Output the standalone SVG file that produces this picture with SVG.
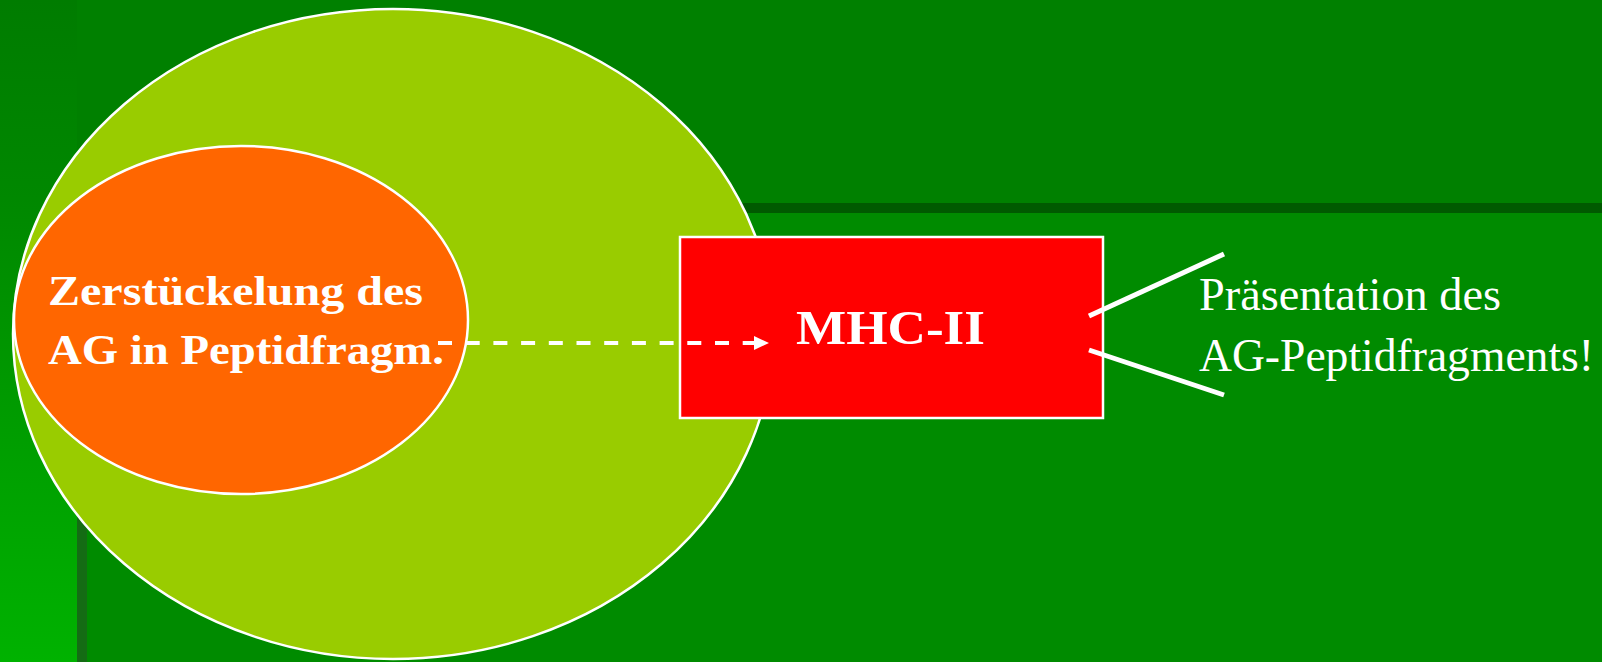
<svg xmlns="http://www.w3.org/2000/svg" width="1602" height="662" viewBox="0 0 1602 662">
<defs>
<linearGradient id="bg" x1="0" y1="0" x2="0" y2="1">
<stop offset="0" stop-color="#007c00"/>
<stop offset="0.3" stop-color="#008800"/>
<stop offset="1" stop-color="#00b200"/>
</linearGradient>
<style>
.lbl{fill:#ffffff;font-family:"Liberation Serif","DejaVu Serif",serif}
.b{font-weight:bold}
.shape{stroke:#ffffff;stroke-width:2.5}
</style>
</defs>
<rect x="0" y="0" width="1602" height="662" fill="url(#bg)"/>
<rect x="77" y="0" width="1525" height="203" fill="#008000"/>
<rect x="77" y="203" width="1525" height="459" fill="#146c14"/>
<rect x="77" y="203" width="1525" height="10" fill="#005a00"/>
<rect x="87" y="213" width="1515" height="449" fill="#008b00"/>
<g id="outer-cell">
<ellipse class="shape" cx="393" cy="334" rx="380" ry="325" fill="#99cc00"/>
</g>
<g id="fragmentation">
<ellipse class="shape" cx="241" cy="320" rx="227" ry="174" fill="#ff6600"/>
<text class="lbl b" x="48" y="305" font-size="42" textLength="375" lengthAdjust="spacingAndGlyphs">Zerstückelung des</text>
<text class="lbl b" x="48" y="364" font-size="42" textLength="396" lengthAdjust="spacingAndGlyphs">AG in Peptidfragm.</text>
</g>
<g id="mhc">
<rect class="shape" x="680" y="237" width="423" height="181" fill="#ff0000"/>
<text class="lbl b" x="796" y="344" font-size="48" textLength="189" lengthAdjust="spacingAndGlyphs">MHC-II</text>
</g>
<g id="presentation">
<text class="lbl" x="1199" y="310" font-size="46" textLength="302" lengthAdjust="spacingAndGlyphs">Präsentation des</text>
<text class="lbl" x="1199" y="371" font-size="46" textLength="395" lengthAdjust="spacingAndGlyphs">AG-Peptidfragments!</text>
</g>
<g id="connectors">
<line x1="438" y1="343" x2="754" y2="343" stroke="#ffffff" stroke-width="4" stroke-dasharray="14 13.7"/>
<polygon points="754,336 769,343 754,350" fill="#ffffff"/>
<line x1="1089" y1="316" x2="1224" y2="254" stroke="#ffffff" stroke-width="5"/>
<line x1="1089" y1="350" x2="1224" y2="395" stroke="#ffffff" stroke-width="5"/>
</g>
</svg>
